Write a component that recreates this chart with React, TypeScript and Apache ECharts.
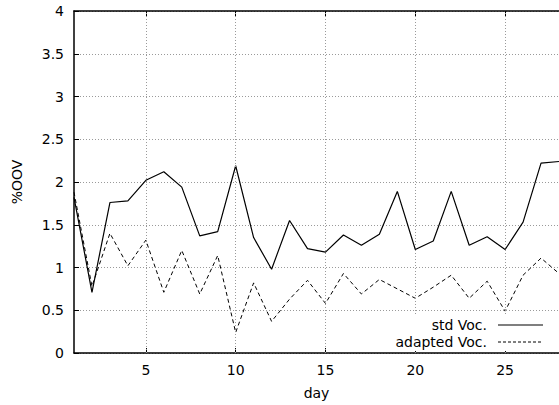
import React, { useEffect, useRef } from "react";
import * as echarts from "echarts";

const days = [1,2,3,4,5,6,7,8,9,10,11,12,13,14,15,16,17,18,19,20,21,22,23,24,25,26,27,28];
const stdVoc = [1.82,0.71,1.76,1.78,2.02,2.12,1.94,1.37,1.42,2.19,1.35,0.98,1.55,1.22,1.18,1.38,1.26,1.39,1.89,1.21,1.31,1.89,1.26,1.36,1.21,1.53,2.22,2.24];
const adaptedVoc = [1.88,0.78,1.40,1.02,1.32,0.71,1.20,0.69,1.14,0.24,0.82,0.37,0.63,0.85,0.58,0.93,0.69,0.86,0.75,0.64,0.77,0.91,0.64,0.84,0.49,0.91,1.11,0.93];
const xTicks = [5,10,15,20,25];
const yTicks = [0,0.5,1,1.5,2,2.5,3,3.5,4];

const FONT = "'DejaVu Sans', 'Liberation Sans', Arial, sans-serif";
const FS = 14;

export default function App() {
  const ref = useRef<HTMLDivElement>(null);
  useEffect(() => {
    document.body.style.margin = "0";
    const chart = echarts.init(ref.current!, null, { renderer: "svg" });
    const gridStyle = { color: "#9a9a9a", width: 1, type: [1, 2] as any };
    chart.setOption({
      animation: false,
      textStyle: { fontFamily: FONT },
      grid: { left: 74, top: 11, right: -3, bottom: 51, containLabel: false },
      xAxis: [
        {
          type: "value",
          min: 1,
          max: 28,
          name: "day",
          nameLocation: "middle",
          nameGap: 33,
          nameTextStyle: { fontSize: FS, color: "#000", fontFamily: FONT },
          axisLine: { show: true, lineStyle: { color: "#000", width: 1.5 } },
          axisTick: { show: true, inside: true, length: 5, customValues: xTicks, lineStyle: { color: "#000" } },
          axisLabel: { customValues: xTicks, fontSize: FS, color: "#000", margin: 10, fontFamily: FONT },
          splitLine: { show: false },
        },
        {
          type: "value",
          position: "top",
          min: 1,
          max: 28,
          axisLine: { show: true, lineStyle: { color: "#000", width: 1.5 } },
          axisTick: { show: true, inside: true, length: 5, customValues: xTicks, lineStyle: { color: "#000" } },
          axisLabel: { show: false },
          splitLine: { show: false },
        },
      ],
      yAxis: {
        type: "value",
        min: 0,
        max: 4,
        interval: 0.5,
        name: "%OOV",
        nameLocation: "middle",
        nameGap: 50,
        nameTextStyle: { fontSize: FS, color: "#000", fontFamily: FONT },
        axisLine: { show: true, lineStyle: { color: "#000", width: 1.5 } },
        axisTick: { show: true, inside: true, length: 5, lineStyle: { color: "#000" } },
        axisLabel: {
          fontSize: FS,
          color: "#000",
          margin: 10,
          fontFamily: FONT,
          formatter: (v: number) => (yTicks.includes(v) ? String(v) : ""),
        },
        splitLine: { show: true, lineStyle: gridStyle },
      },
      series: [
        {
          name: "grid",
          type: "line",
          data: [],
          silent: true,
          markLine: {
            silent: true,
            symbol: "none",
            label: { show: false },
            lineStyle: gridStyle,
            data: xTicks.map((t) => ({ xAxis: t })),
          },
        },
        {
          name: "std Voc.",
          type: "line",
          data: days.map((d, i) => [d, stdVoc[i]]),
          showSymbol: false,
          symbol: "none",
          lineStyle: { color: "#000", width: 1.2 },
          z: 3,
        },
        {
          name: "adapted Voc.",
          type: "line",
          data: days.map((d, i) => [d, adaptedVoc[i]]),
          showSymbol: false,
          symbol: "none",
          lineStyle: { color: "#000", width: 1, type: [4, 3] },
          z: 3,
        },
      ],
      graphic: [
        { type: "rect", left: 350, top: 316, shape: { width: 205, height: 35 }, style: { fill: "#fff" }, z: 10 },
        { type: "text", x: 487, y: 325, style: { text: "std Voc.", font: `${FS}px ${FONT}`, fill: "#000", textAlign: "right", textVerticalAlign: "middle" }, z: 11 },
        { type: "text", x: 487, y: 342, style: { text: "adapted Voc.", font: `${FS}px ${FONT}`, fill: "#000", textAlign: "right", textVerticalAlign: "middle" }, z: 11 },
        { type: "line", shape: { x1: 498, y1: 325, x2: 543, y2: 325 }, style: { stroke: "#000", lineWidth: 1.2 }, z: 11 },
        { type: "line", shape: { x1: 498, y1: 342, x2: 543, y2: 342 }, style: { stroke: "#000", lineWidth: 1, lineDash: [3, 2] }, z: 11 },
      ],
    });
    return () => chart.dispose();
  }, []);
  return <div ref={ref} style={{ width: 559, height: 405 }} />;
}
